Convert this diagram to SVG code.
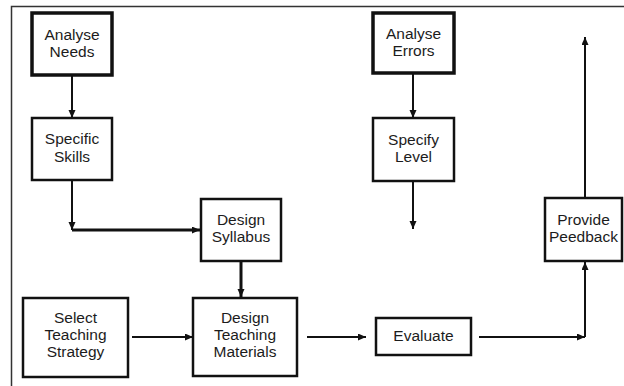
<svg xmlns="http://www.w3.org/2000/svg" width="624" height="386" viewBox="0 0 624 386">
<defs>
<style>
.box{fill:#fff;stroke:#111;stroke-width:2.5}
.thick{stroke-width:3.5}
.lbl{font-family:"Liberation Sans",Arial,sans-serif;font-size:15.5px;fill:#1c1c1c;text-anchor:middle}
.con{fill:none;stroke:#111;stroke-width:2}
.heavy{stroke-width:3}
</style>
<marker id="ah" markerUnits="userSpaceOnUse" markerWidth="9" markerHeight="8" refX="8" refY="3.5" orient="auto">
<path d="M0,0 L8,3.5 L0,7 z" fill="#111"/>
</marker>
</defs>
<rect width="624" height="386" fill="#fff"/>
<path d="M11.5,386 V6.5 H624" fill="none" stroke="#333" stroke-width="1.5"/>

<g id="analyse-needs">
<rect class="box thick" x="32" y="13" width="80" height="62"/>
<text class="lbl" x="72" y="39.5">Analyse</text>
<text class="lbl" x="72" y="57">Needs</text>
</g>
<g id="specific-skills">
<rect class="box" x="32" y="118" width="80" height="62"/>
<text class="lbl" x="72" y="144">Specific</text>
<text class="lbl" x="72" y="162">Skills</text>
</g>
<g id="analyse-errors">
<rect class="box thick" x="373" y="13" width="81" height="60"/>
<text class="lbl" x="413.5" y="38.5">Analyse</text>
<text class="lbl" x="413.5" y="56">Errors</text>
</g>
<g id="specify-level">
<rect class="box" x="373" y="118" width="81" height="63"/>
<text class="lbl" x="413.5" y="144.5">Specify</text>
<text class="lbl" x="413.5" y="162">Level</text>
</g>
<g id="design-syllabus">
<rect class="box" x="201" y="199" width="80" height="62"/>
<text class="lbl" x="241" y="224.5">Design</text>
<text class="lbl" x="241" y="242">Syllabus</text>
</g>
<g id="provide-feedback">
<rect class="box" x="545" y="198" width="77" height="63"/>
<text class="lbl" x="583.5" y="224.5">Provide</text>
<text class="lbl" x="583.5" y="242">Peedback</text>
</g>
<g id="select-teaching-strategy">
<rect class="box" x="23" y="298" width="105" height="79"/>
<text class="lbl" x="75.5" y="322.5">Select</text>
<text class="lbl" x="75.5" y="340">Teaching</text>
<text class="lbl" x="75.5" y="357">Strategy</text>
</g>
<g id="design-teaching-materials">
<rect class="box" x="193" y="298" width="104" height="78"/>
<text class="lbl" x="245" y="322.5">Design</text>
<text class="lbl" x="245" y="340">Teaching</text>
<text class="lbl" x="245" y="357">Materials</text>
</g>
<g id="evaluate">
<rect class="box" x="376" y="318" width="95" height="37"/>
<text class="lbl" x="423.5" y="341">Evaluate</text>
</g>

<g id="connectors">
<path class="con" d="M72,75 V118" marker-end="url(#ah)"/>
<path class="con" d="M413,73 V118" marker-end="url(#ah)"/>
<path class="con" d="M413,181 V229" marker-end="url(#ah)"/>
<path class="con" d="M72,180 V230" marker-end="url(#ah)"/>
<path class="con heavy" d="M72,230 H200" marker-end="url(#ah)"/>
<path class="con heavy" d="M241,261 V297" marker-end="url(#ah)"/>
<path class="con" d="M132,337 H193" marker-end="url(#ah)"/>
<path class="con" d="M307,337 H366" marker-end="url(#ah)"/>
<path class="con" d="M479,337 H585" marker-end="url(#ah)"/>
<path class="con" d="M585,337 V262" marker-end="url(#ah)"/>
<path class="con" d="M585,197 V37" marker-end="url(#ah)"/>
</g>
</svg>
